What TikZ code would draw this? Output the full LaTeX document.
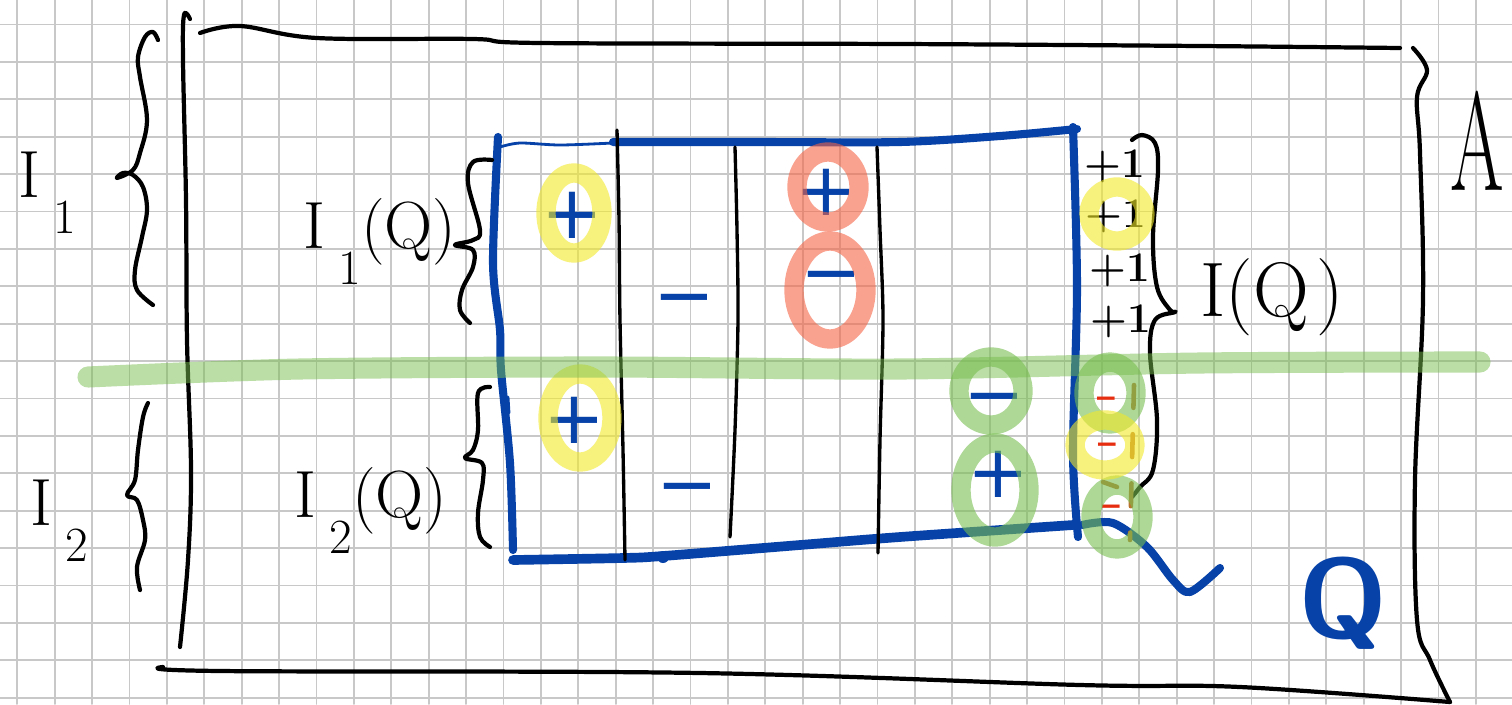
\documentclass[tikz,border=0pt]{standalone}
\usepackage{fontspec}
\newfontfamily\signfont{DejaVu Sans}
\definecolor{qblue}{RGB}{6,66,168}
\definecolor{gridgray}{RGB}{200,200,200}
\definecolor{hlyellow}{RGB}{242,232,40}
\definecolor{hlgreen}{RGB}{120,190,80}
\definecolor{hlred}{RGB}{245,100,70}
\definecolor{dashbrown}{RGB}{185,115,45}
\definecolor{markred}{RGB}{230,45,15}
\newcommand{\Isub}[1]{I\kern0.2em\raisebox{-0.55em}{\fontsize{28}{28}\selectfont #1}}

\begin{document}
\begin{tikzpicture}[x=0.02cm, y=-0.02cm, line join=round, line cap=round,
    gridline/.style={gridgray, line width=1.1pt},
    pen/.style={line width=2.4pt},
    bluepen/.style={qblue, line width=4.6pt},
    hl/.style={line width=11pt, opacity=0.6},
    hand/.style={inner sep=0pt, font=\fontsize{38}{38}\selectfont},
    sgn/.style={inner sep=0pt, text=qblue, font=\signfont\fontsize{42}{42}\selectfont},
    plusone/.style={inner sep=0pt, font=\bfseries\fontsize{24}{24}\selectfont}]
  \useasboundingbox (0,0) rectangle (1512,704);
  \fill[white] (0,0) rectangle (1512,704);
  % squared paper
  \foreach \gx in {0,...,40}
    \draw[gridline] ({17.3+37.4*\gx},0) -- ({17.3+37.4*\gx},704);
  \foreach \gy in {0,...,18}
    \draw[gridline] (0,{24.5+37.4*\gy}) -- (1512,{24.5+37.4*\gy});

  % the set A
  \draw[pen] plot[smooth, tension=0.6] coordinates {(190,19) (184,15) (183,60) (186,200) (187,340) (191,470) (188,560) (180,647)};
  \draw[pen] plot[smooth, tension=0.6] coordinates {(200,33) (240,26) (317,38) (473,39) (540,43) (900,44) (1200,46) (1400,48)};
  \draw[pen] plot[smooth, tension=0.6] coordinates {(1413,48) (1427,70) (1417,97) (1420,153) (1423,300) (1415,480) (1417,620) (1430,660) (1450,702)};
  \draw[pen] plot[smooth, tension=0.6] coordinates {(163,667) (220,671) (700,673) (1080,685) (1240,687) (1450,702)};
  \node[inner sep=0pt, anchor=base west, font=\fontsize{80}{80}\selectfont] (setA) at (1450,190) {\scalebox{0.55}[1]{A}};

  % the box Q
  \draw[bluepen, line width=1.6pt] plot[smooth] coordinates {(500,147) (520,143) (560,145) (613,143)};
  \draw[bluepen] plot[smooth] coordinates {(613,142) (760,142) (900,142) (1000,136) (1077,129)};
  \draw[bluepen] plot[smooth] coordinates {(498,137) (493,263) (500,330) (501,370) (510,463) (513,550)};
  \draw[bluepen, line width=5.5pt] plot[smooth] coordinates {(513,560) (623,558) (663,556) (800,545) (900,537) (1073,525)};
  \fill[qblue] (663,557) circle[radius=6];
  \draw[bluepen] plot[smooth] coordinates {(1073,127) (1077,287) (1073,453) (1078,537)};
  \draw[bluepen, line width=1.6pt] (508,397) -- (509,413);
  \draw[bluepen] plot[smooth] coordinates {(1082,525) (1113,523) (1147,547) (1173,580) (1190,592) (1220,568)};
  \node[inner sep=0pt, text=qblue, font=\sffamily\bfseries\fontsize{64}{64}\selectfont] (labQ) at (1343,603) {Q};

  % columns
  \draw[pen, line width=1.9pt] plot[smooth] coordinates {(617,130) (619,220) (620,320) (623,450) (625,560)};
  \draw[pen, line width=1.9pt] plot[smooth] coordinates {(735,147) (737,230) (738,320) (735,430) (730,537)};
  \draw[pen, line width=1.9pt] plot[smooth] coordinates {(877,147) (880,230) (883,320) (880,440) (878,553)};

  % braces
  \draw[pen] plot[smooth, tension=0.6] coordinates {(158,40) (153,32) (145,37) (138,57) (140,77) (147,120) (140,153) (133,170) (117,178) (123,173) (133,175) (143,187) (147,210) (142,237) (135,270) (137,290) (153,305)};
  \draw[pen] plot[smooth, tension=0.6] coordinates {(148,403) (143,417) (138,450) (135,480) (127,495) (137,500) (143,520) (145,540) (137,567) (140,590)};
  \draw[pen] plot[smooth, tension=0.6] coordinates {(492,160) (473,162) (468,183) (480,230) (473,240) (455,245) (473,250) (473,267) (462,290) (460,310) (470,323)};
  \draw[pen] plot[smooth, tension=0.6] coordinates {(490,387) (478,393) (478,430) (473,450) (465,458) (482,463) (483,480) (478,513) (480,537) (490,547)};
  \draw[pen] plot[smooth, tension=0.6] coordinates {(1132,140) (1142,135) (1155,143) (1158,170) (1153,237) (1157,287) (1170,310) (1175,312) (1155,320) (1150,353) (1157,420) (1153,470) (1140,487) (1132,497)};

  % labels
  \node[hand, anchor=base west] (labIone) at (18,197) {\Isub{1}};
  \node[hand, anchor=base west] (labItwo) at (30,525) {\Isub{2}};
  \node[hand, anchor=base west] (labIoneQ) at (303,248) {\Isub{1}(Q)};
  \node[hand, anchor=base west] (labItwoQ) at (294,517) {\Isub{2}(Q)};
  \node[hand, anchor=base west, font=\fontsize{44}{44}\selectfont] (labIQ) at (1200,316) {I(Q\kern0.1em)};
  \foreach \px/\py [count=\k] in {1115/166, 1116/216, 1120/270, 1121/321}
    \node[plusone] (one\k) at (\px,\py) {+1};

  % signs
  \node[sgn] (sgnA) at (572,215) {+};
  \node[sgn] (sgnB) at (574,420) {+};
  \node[sgn] (sgnC) at (684,307) {−};
  \node[sgn] (sgnD) at (687,496) {−};
  \node[sgn] (sgnE) at (826,192) {+};
  \node[sgn] (sgnF) at (831,284) {−};
  \node[sgn] (sgnG) at (994,406) {−};
  \node[sgn] (sgnH) at (998,474) {+};
  \foreach \px/\py [count=\k] in {1106/402, 1107/448, 1111/510}
    \node[inner sep=0pt, text=markred, font=\signfont\bfseries\fontsize{16}{16}\selectfont] (red\k) at (\px,\py) {−};
  \draw[dashbrown, line width=2.6pt, dash pattern=on 13pt off 15pt] (1134,385) -- (1130,540);
  \draw[dashbrown, line width=2.6pt] (1103,482) -- (1117,487);

  % highlights
  \draw[hl, hlyellow] (574,213) ellipse [x radius=28, y radius=40];
  \draw[hl, hlyellow] (580,418) ellipse [x radius=32, y radius=44];
  \draw[hl, hlyellow] (1117,214) ellipse [x radius=28, y radius=27];
  \draw[hl, hlred] (828,187) ellipse [x radius=31, y radius=35];
  \draw[hl, hlred] (830,290) ellipse [x radius=36, y radius=49];
  \draw[hl, hlgreen] (991,391) ellipse [x radius=32, y radius=34];
  \draw[hl, hlgreen] (995,490) ellipse [x radius=34, y radius=47];
  \draw[hl, hlgreen] (1110,393) ellipse [x radius=26, y radius=31];
  \draw[hl, hlgreen] (1117,517) ellipse [x radius=26, y radius=32];
  \draw[hl, hlyellow] (1105,445) ellipse [x radius=30, y radius=25];
  \draw[hlgreen, line width=12pt, opacity=0.5] plot[smooth] coordinates {(88,377) (300,369) (600,367) (900,369) (1200,363) (1480,362)};
\end{tikzpicture}
\end{document}
